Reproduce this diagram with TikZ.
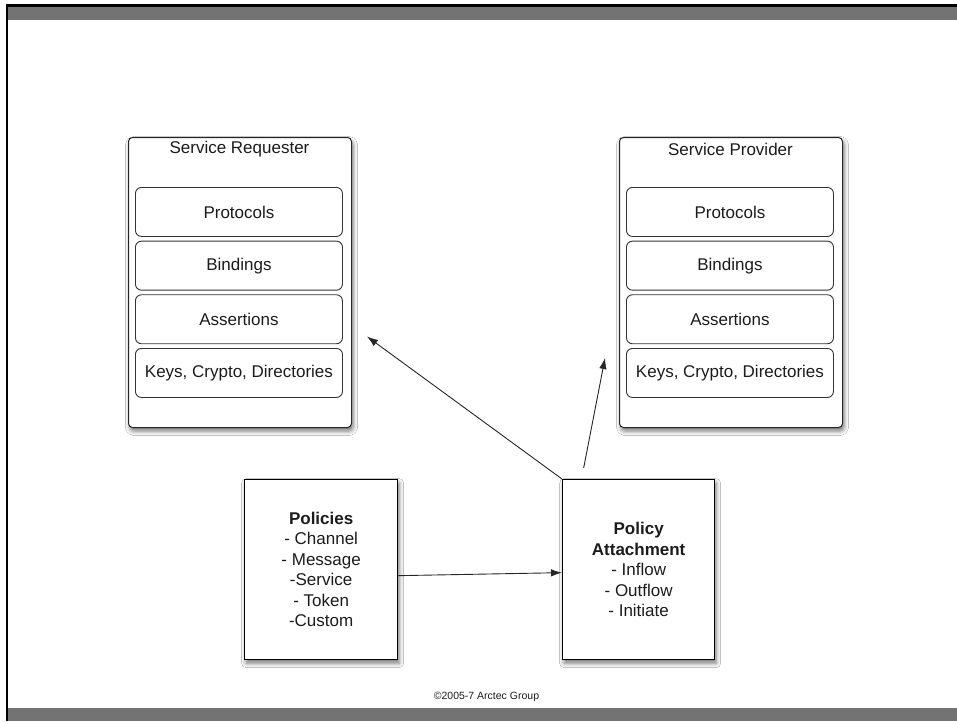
\documentclass[tikz,border=0pt]{standalone}
\usepackage{fontspec}
\setmainfont{Liberation Sans}
\usetikzlibrary{shadows.blur,arrows.meta}

\definecolor{bandgray}{HTML}{737373}
\definecolor{inkgray}{HTML}{1C1C1C}

\begin{document}
\begin{tikzpicture}[x=1pt,y=-1pt,
  font=\fontsize{17}{20.5}\selectfont,
  every node/.style={text=inkgray},
  outerbox/.style={draw=black!85, line width=1pt, rounded corners=4pt, fill=white,
    inner sep=0pt, anchor=north west, minimum width=223pt, minimum height=290pt,
    blur shadow={shadow xshift=1.5pt, shadow yshift=-3.5pt, shadow blur radius=4.5pt, shadow opacity=55}},
  layerbox/.style={draw=black!80, line width=0.9pt, rounded corners=6pt, fill=white,
    inner sep=0pt, anchor=north west, minimum width=207pt, minimum height=49pt},
  policybox/.style={draw=black, line width=1.3pt, fill=white, align=center,
    inner sep=0pt, anchor=north west, minimum width=153pt, minimum height=180pt,
    blur shadow={shadow xshift=1.5pt, shadow yshift=-3.5pt, shadow blur radius=4.5pt, shadow opacity=55}},
  link/.style={draw=black!85, line width=0.9pt, -{Latex[length=11pt,width=7.5pt]}}
]
% page frame
\useasboundingbox (0,0) rectangle (957,721);
\fill[white] (0,0) rectangle (957,721);
\fill[black] (5.5,4) rectangle (957,6.5);
\fill[bandgray] (8,6.5) rectangle (957,20);
\fill[black] (5.5,4) rectangle (8,721);
\fill[bandgray] (8,707.5) rectangle (957,721);

% service requester stack
\node[outerbox] (req) at (128,137) {};
\node (reqtitle) at (239.5,149) {Service Requester};
\node[layerbox] (reqP) at (135,187) {Protocols};
\node[layerbox] (reqB) at (135,240.7) {Bindings};
\node[layerbox] (reqA) at (135,294.3) {Assertions};
\node[layerbox] (reqK) at (135,348) {Keys, Crypto, Directories};

% service provider stack
\node[outerbox] (prov) at (619,137) {};
\node (provtitle) at (730.5,149) {Service Provider};
\node[layerbox] (provP) at (626,187) {Protocols};
\node[layerbox] (provB) at (626,240.7) {Bindings};
\node[layerbox] (provA) at (626,294.3) {Assertions};
\node[layerbox] (provK) at (626,348) {Keys, Crypto, Directories};

% policies and attachment
\node[policybox] (pol) at (244,479) {\textbf{Policies}\\- Channel\\- Message\\-Service\\- Token\\-Custom};
\node[policybox, minimum width=152pt] (att) at (562,479) {\textbf{Policy}\\\textbf{Attachment}\\- Inflow\\- Outflow\\- Initiate};

% connectors
\draw[link] ([yshift=-6pt]pol.east) -- ([yshift=-3pt]att.west);
\draw[link] (att.north west) -- ([shift={(15,54)}]req.east);
\draw[link] ([shift={(-55,-11)}]att.north) -- ([shift={(-14,-70)}]prov.south west);

% footer
\node (copy) at (486.5,696.5) {\fontsize{10.5}{12}\selectfont ©2005-7 Arctec Group};
\end{tikzpicture}
\end{document}
